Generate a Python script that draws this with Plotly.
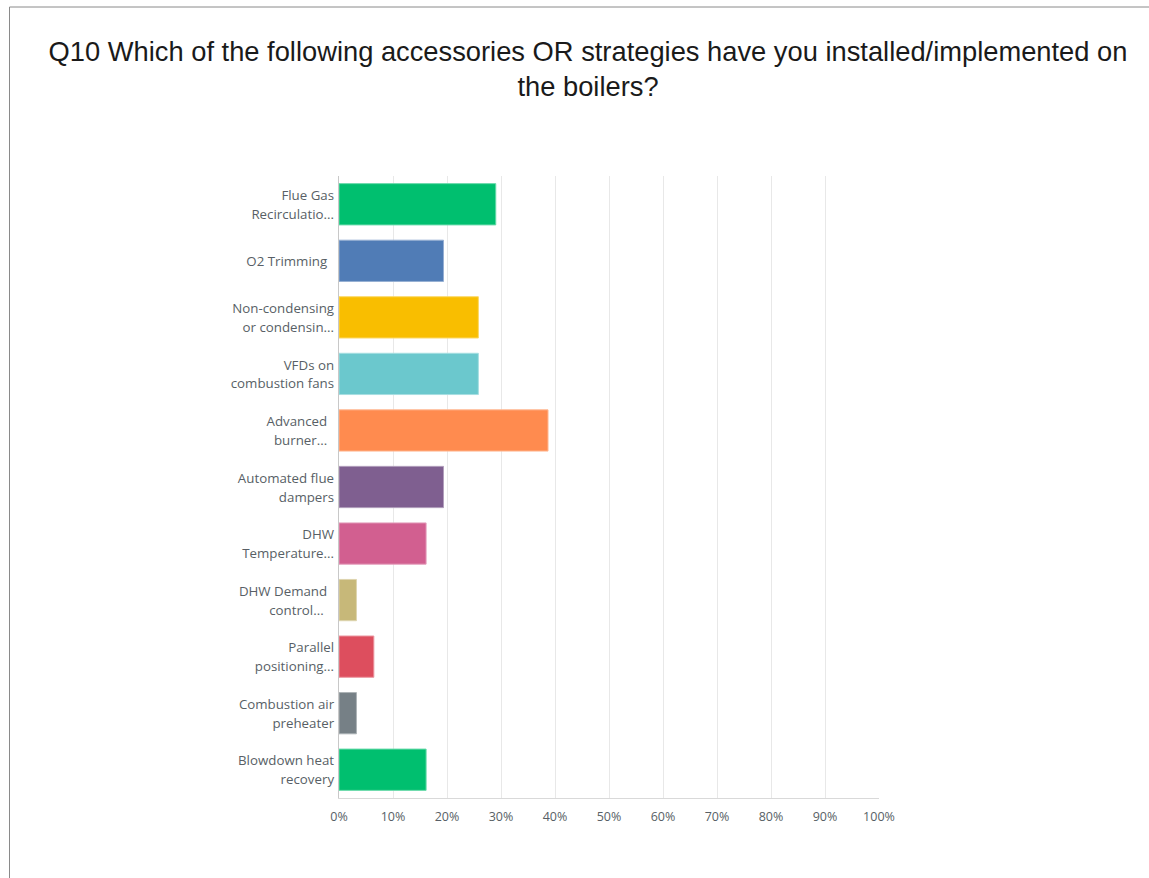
import plotly.graph_objects as go

categories = [
    "Flue Gas<br>Recirculatio...",
    "O2 Trimming\u00a0\u00a0",
    "Non-condensing<br>or condensin...",
    "VFDs on<br>combustion fans",
    "Advanced\u00a0\u00a0<br>burner...\u00a0\u00a0",
    "Automated flue<br>dampers",
    "DHW<br>Temperature...",
    "DHW Demand\u00a0\u00a0<br>control...\u00a0\u00a0\u00a0",
    "Parallel<br>positioning...",
    "Combustion air<br>preheater",
    "Blowdown heat<br>recovery",
]
values = [29.03, 19.35, 25.81, 25.81, 38.71, 19.35, 16.13, 3.23, 6.45, 3.23, 16.13]
colors = ["#00bf6f", "#507cb6", "#f9be00", "#6bc8cd", "#ff8b4f", "#7f5f90",
          "#d25f90", "#c7b879", "#dd4e5e", "#768086", "#00bf6f"]
line_colors = ["#66d9a9", "#96b0d3", "#fbd866", "#a6dee1", "#ffb995", "#b29fbc",
               "#e49fbc", "#ddd4af", "#eb959e", "#adb3b6", "#66d9a9"]
x_ticks = [0, 10, 20, 30, 40, 50, 60, 70, 80, 90, 100]
x_tick_labels = [f"{t}%" for t in x_ticks]

def wrap(label):
    parts = label.split("<br>")
    return "<br>".join(f"<span style='font-size:13.3px'>{p}</span>" for p in parts)

y_labels = [wrap(c) for c in categories]

fig = go.Figure(go.Bar(
    x=values,
    y=y_labels,
    orientation="h",
    marker=dict(color=colors, line=dict(color=line_colors, width=1)),
    hovertemplate="%{x:.2f}%<extra></extra>",
))

W, H = 1149, 878
L, R, T, B = 339, 879, 176, 798

def px_x(px):
    return (px - L) / (R - L)

def px_y(py):
    return (B - py) / (B - T)

fig.update_layout(
    width=W, height=H,
    margin=dict(l=L, r=W - R, t=T, b=H - B, pad=0),
    paper_bgcolor="white",
    plot_bgcolor="white",
    bargap=0.27,
    showlegend=False,
    title=dict(
        text="Q10 Which of the following accessories OR strategies have you installed/implemented on<br>the boilers?",
        x=588 / W, xref="container", xanchor="center",
        y=1 - 61 / H, yref="container", yanchor="top",
        font=dict(family="Liberation Sans, Arial, sans-serif", size=27.3, color="#1a1a1a"),
    ),
    xaxis=dict(
        range=[0, 100],
        tickvals=x_ticks, ticktext=x_tick_labels,
        showgrid=True, gridcolor="#e8e8e8", gridwidth=1,
        zeroline=False,
        showline=True, linecolor="#d9d9d9", linewidth=1,
        ticks="", ticklabelstandoff=7,
        tickfont=dict(family="Open Sans, sans-serif", size=12.5, color="#585f66"),
        fixedrange=True,
    ),
    yaxis=dict(
        categoryorder="array", categoryarray=y_labels,
        autorange="reversed",
        showgrid=False, zeroline=False,
        showline=True, linecolor="#c8c8c8", linewidth=1,
        ticks="", ticklabelstandoff=1,
        tickfont=dict(family="Open Sans, sans-serif", size=14.6, color="#585f66"),
        fixedrange=True,
    ),
    shapes=[
        dict(type="line", xref="paper", yref="paper",
             x0=px_x(9.5), x1=px_x(9.5), y0=px_y(7), y1=px_y(900),
             line=dict(color="#8a8a8a", width=1)),
        dict(type="line", xref="paper", yref="paper",
             x0=px_x(9.5), x1=px_x(1160), y0=px_y(7), y1=px_y(7),
             line=dict(color="#8a8a8a", width=1)),
    ],
)

fig.write_html("out.html")
